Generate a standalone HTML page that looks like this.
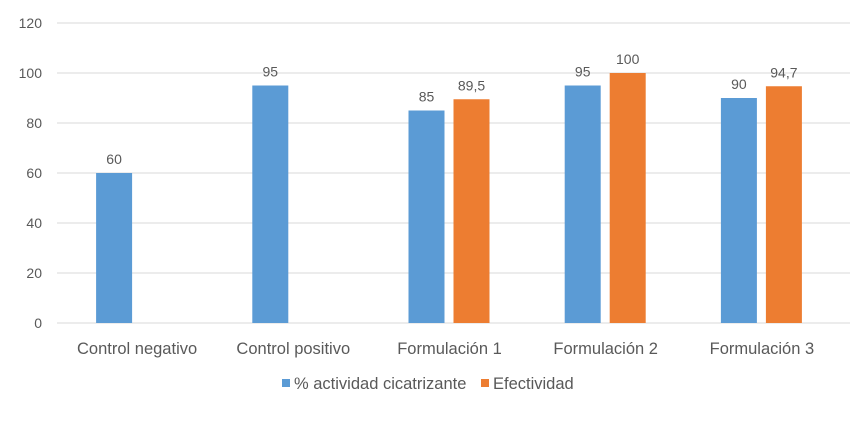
<!DOCTYPE html>
<html><head><meta charset="utf-8"><style>
body{margin:0;background:#fff;width:863px;height:416px;overflow:hidden;font-family:"Liberation Sans",sans-serif;}
svg text{font-family:"Liberation Sans",sans-serif;fill:#595959;font-size:14px;}
svg text.big{font-size:16.5px;}
</style></head><body>
<svg id="chart" width="863" height="416"></svg>
<script>
const categories=["Control negativo","Control positivo","Formulación 1","Formulación 2","Formulación 3"];
const actividad=[60,95,85,95,90];
const efectividad=[null,null,89.5,100,94.7];
const actividadLabels=["60","95","85","95","90"];
const efectividadLabels=["","","89,5","100","94,7"];
const yTicks=[0,20,40,60,80,100,120];
const seriesNames=["% actividad cicatrizante","Efectividad"];

const svg=document.getElementById('chart');
const NS='http://www.w3.org/2000/svg';
const gx0=57,gx1=850,x0=59,x1=840,y0=323,yTop=23,yMax=120;
const band=(x1-x0)/categories.length;
function yS(v){return y0-(v/yMax)*(y0-yTop);}
function xC(i){return x0+band*(i+0.5);}
function el(t,a){const e=document.createElementNS(NS,t);for(const k in a)e.setAttribute(k,a[k]);svg.appendChild(e);return e;}

yTicks.forEach(t=>{
  const g=el('line',{x1:gx0,x2:gx1,y1:yS(t),y2:yS(t),stroke:'#d9d9d9','stroke-width':1});
  
  
  const l=el('text',{x:42,y:yS(t)+5,'text-anchor':'end'});l.textContent=t;
  
  
});
categories.forEach((c,i)=>{
  const l=el('text',{x:xC(i),y:354,'text-anchor':'middle','class':'big'});l.textContent=c;
  
  
  const bw=36;
  if(actividad[i]!=null){
    const b=el('rect',{x:xC(i)-41,y:yS(actividad[i]),width:bw,height:y0-yS(actividad[i]),fill:'#5b9bd5'});
    
    
    const t=el('text',{x:xC(i)-23,y:yS(actividad[i])-9,'text-anchor':'middle'});t.textContent=actividadLabels[i];
    
    
  }
  if(efectividad[i]!=null){
    const b=el('rect',{x:xC(i)+4,y:yS(efectividad[i]),width:bw,height:y0-yS(efectividad[i]),fill:'#ed7d31'});
    
    
    const t=el('text',{x:xC(i)+22,y:yS(efectividad[i])-9,'text-anchor':'middle'});t.textContent=efectividadLabels[i];
    
    
  }
});
const legX=[282,481],legC=['#5b9bd5','#ed7d31'];
seriesNames.forEach((n,i)=>{
  const r=el('rect',{x:legX[i],y:379,width:8,height:8,fill:legC[i]});
  
  
  const t=el('text',{x:legX[i]+12,y:389,'class':'big'});t.textContent=n;
  
  
});
</script>
</body></html>
